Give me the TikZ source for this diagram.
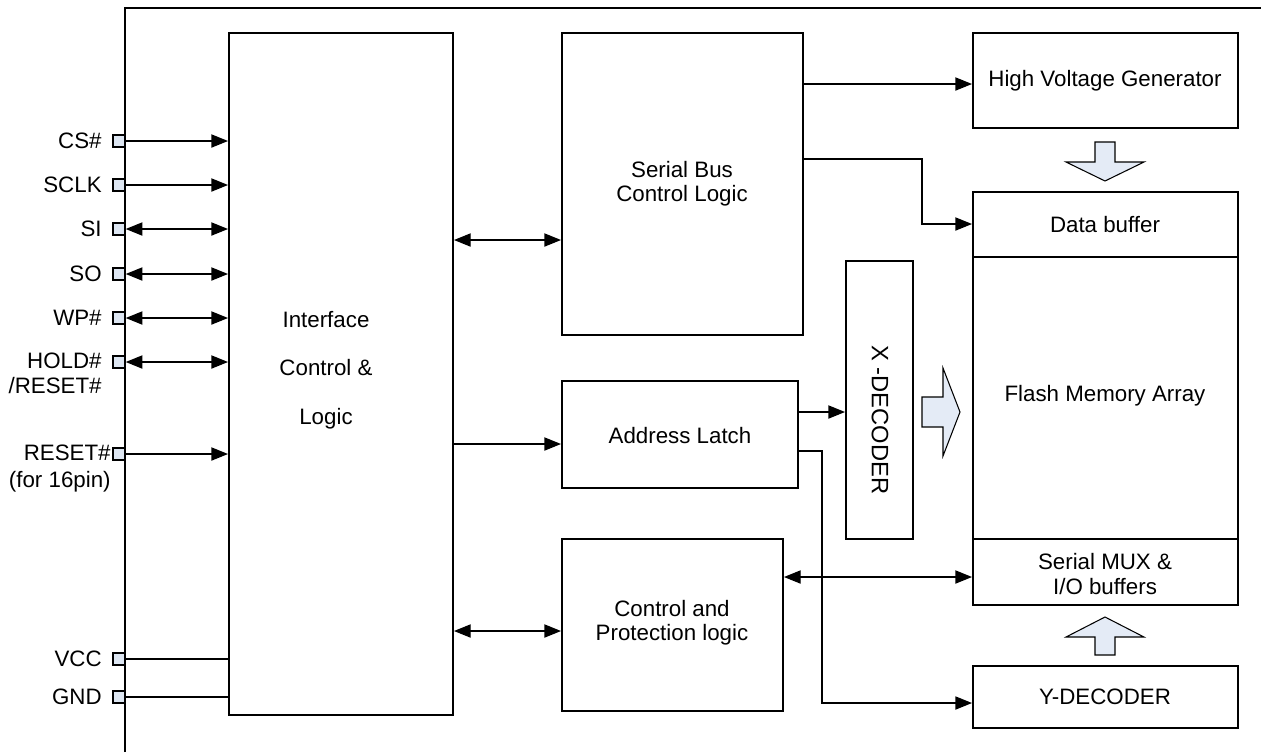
\documentclass[tikz,border=0pt]{standalone}
\usepackage{fontspec}
\setmainfont{Liberation Sans}
\usetikzlibrary{arrows.meta,fit}
\definecolor{PinBlue}{HTML}{DDE6F2}
\definecolor{FlowBlue}{HTML}{E4EBF6}

\begin{document}
\begin{tikzpicture}[x=0.02cm,y=-0.02cm,
  every node/.style={font=\fontsize{12.7}{13.8}\selectfont},
  blockbox/.style={draw,line width=1.1pt,inner sep=0pt},
  boxtext/.style={align=center,inner sep=0pt},
  pinbox/.style={draw,fill=PinBlue,line width=0.8pt,minimum size=0.24cm,inner sep=0pt},
  pintext/.style={anchor=east,inner sep=0pt,align=right},
  sig/.style={line width=0.75pt,-{Triangle[length=9.5pt,width=7.5pt]}},
  bisig/.style={line width=0.75pt,{Triangle[length=9.5pt,width=7.5pt]}-{Triangle[length=9.5pt,width=7.5pt]}},
  wire/.style={line width=1.1pt},
  flow/.style={draw,fill=FlowBlue,line width=0.6pt,line join=miter}]
\path[use as bounding box] (0,0) rectangle (1261,752);
\draw[line width=0.8pt] (125,752) -- (125,8) -- (1261,8);
\node[blockbox,fit={(229,33) (453,715)}] (iface) {};
\node[blockbox,fit={(562,33) (803,335)}] (sbus) {};
\node[blockbox,fit={(562,381) (798,488)}] (latch) {};
\node[blockbox,fit={(562,539) (783,711)}] (prot) {};
\node[blockbox,fit={(846,261) (913,539)}] (xdec) {};
\node[blockbox,fit={(973,33) (1238,128)}] (hvgen) {};
\node[blockbox,fit={(973,192) (1238,257)}] (databuf) {};
\node[blockbox,fit={(973,257) (1238,539)}] (array) {};
\node[blockbox,fit={(973,539) (1238,605)}] (mux) {};
\node[blockbox,fit={(973,666) (1238,728)}] (ydec) {};
\node[boxtext] (ifacetext) at (326,370) {Interface\\[13.8pt]Control \&\\[13.8pt]Logic};
\node[boxtext] (sbustext) at (682,184) {Serial Bus\\Control Logic};
\node[boxtext] (latchtext) at (680,436) {Address Latch};
\node[boxtext] (prottext) at (672,623) {Control and\\Protection logic};
\node[boxtext,rotate=-90,font=\fontsize{13.5}{14}\selectfont] (xdectext) at (880,420) {X -DECODER};
\node[boxtext] (hvgentext) at (1105,81) {High Voltage Generator};
\node[boxtext] (databuftext) at (1105,225) {Data buffer};
\node[boxtext] (arraytext) at (1105,396) {Flash Memory Array};
\node[boxtext] (muxtext) at (1105,574) {Serial MUX \&\\I/O buffers};
\node[boxtext] (ydectext) at (1105,697) {Y-DECODER};
\node[pinbox] (cspin) at (119,141) {};
\node[pinbox] (sclkpin) at (119,185) {};
\node[pinbox] (sipin) at (119,229) {};
\node[pinbox] (sopin) at (119,274) {};
\node[pinbox] (wppin) at (119,318) {};
\node[pinbox] (holdpin) at (119,362) {};
\node[pinbox] (resetpin) at (119,454) {};
\node[pinbox] (vccpin) at (119,659) {};
\node[pinbox] (gndpin) at (119,697) {};
\node[pintext] (cstext) at (102,141) {CS\#};
\node[pintext] (sclktext) at (102,185) {SCLK};
\node[pintext] (sitext) at (102,229) {SI};
\node[pintext] (sotext) at (102,274) {SO};
\node[pintext] (wptext) at (102,318) {WP\#};
\node[pintext,anchor=north east] (holdtext) at (102,353) {HOLD\#\\/RESET\#};
\node[pintext,anchor=north east] (resettext) at (111,445) {RESET\#\\[1.2pt](for 16pin)};
\node[pintext] (vcctext) at (102,659) {VCC};
\node[pintext] (gndtext) at (102,697) {GND};
\draw[sig] (cspin.east) -- (cspin.east -| iface.west);
\draw[sig] (sclkpin.east) -- (sclkpin.east -| iface.west);
\draw[bisig] (sipin.east) -- (sipin.east -| iface.west);
\draw[bisig] (sopin.east) -- (sopin.east -| iface.west);
\draw[bisig] (wppin.east) -- (wppin.east -| iface.west);
\draw[bisig] (holdpin.east) -- (holdpin.east -| iface.west);
\draw[sig] (resetpin.east) -- (resetpin.east -| iface.west);
\draw[wire] (vccpin.east) -- (vccpin.east -| iface.west);
\draw[wire] (gndpin.east) -- (gndpin.east -| iface.west);
\draw[bisig] (iface.east |- 0,240) -- (sbus.west |- 0,240);
\draw[sig] (iface.east |- 0,444) -- (latch.west |- 0,444);
\draw[bisig] (iface.east |- 0,631) -- (prot.west |- 0,631);
\draw[sig] (sbus.east |- 0,84) -- (hvgen.west |- 0,84);
\draw[sig] (sbus.east |- 0,159) -| (922,224) -- (databuf.west |- 0,224);
\draw[sig] (latch.east |- 0,412) -- (xdec.west |- 0,412);
\draw[sig] (latch.east |- 0,451) -| (822,703) -- (ydec.west |- 0,703);
\draw[bisig] (prot.east |- 0,577) -- (mux.west |- 0,577);
\filldraw[flow] (1095,142) -- (1115,142) -- (1115,162) -- (1144,162) -- (1105,181) -- (1066,162) -- (1095,162) -- cycle;
\filldraw[flow] (922,397) -- (943,397) -- (943,368) -- (960,412) -- (943,456) -- (943,427) -- (922,427) -- cycle;
\filldraw[flow] (1105,617) -- (1144,637) -- (1115,637) -- (1115,655) -- (1095,655) -- (1095,637) -- (1066,637) -- cycle;
\end{tikzpicture}
\end{document}
